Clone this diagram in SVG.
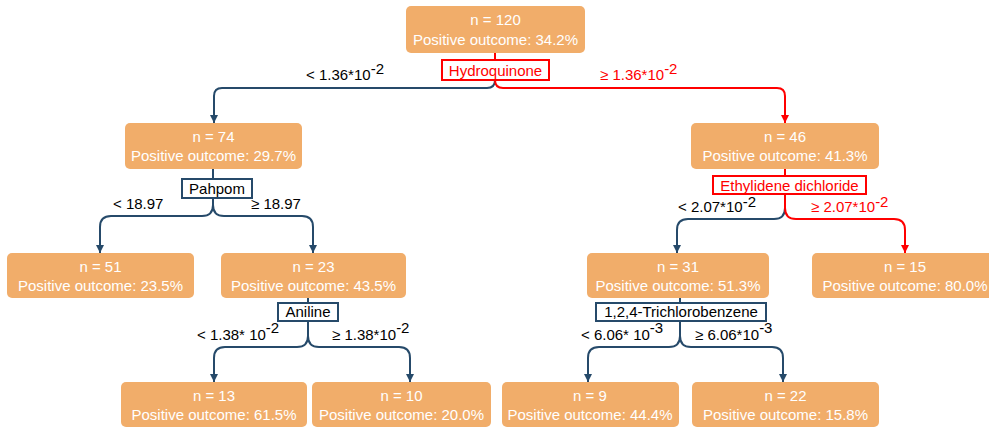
<svg xmlns="http://www.w3.org/2000/svg" width="989" height="430" viewBox="0 0 989 430">
<defs>
<style>
.node rect{fill:#F1AD6A;stroke:none}
.node text{fill:#FFFFFF;font-family:"Liberation Sans",Arial,sans-serif;font-size:15px;text-anchor:middle}
.split rect{fill:#FFFFFF;stroke-width:2}
.split text{font-family:"Liberation Sans",Arial,sans-serif;font-size:15px;text-anchor:middle}
.blue rect{stroke:#264A6A}
.blue text{fill:#000000}
.red rect{stroke:#FF0000}
.red text{fill:#FF0000}
.lbl{font-family:"Liberation Sans",Arial,sans-serif;font-size:15px;fill:#000000}
.lbl.r{fill:#FF0000}
.sup{font-size:15px}
.c{fill:none;stroke-width:2}
.cb{stroke:#264A6A}
.cr{stroke:#FF0000}
</style>
<marker id="ab" viewBox="0 0 10 10" refX="10" refY="5" markerWidth="9" markerHeight="8" markerUnits="userSpaceOnUse" orient="auto"><path d="M0,0 L10,5 L0,10 z" fill="#264A6A"/></marker>
<marker id="ar" viewBox="0 0 10 10" refX="10" refY="5" markerWidth="9" markerHeight="8" markerUnits="userSpaceOnUse" orient="auto"><path d="M0,0 L10,5 L0,10 z" fill="#FF0000"/></marker>
</defs>
<rect width="989" height="430" fill="#FFFFFF"/>

<g id="connectors">
<path class="c cr" d="M495,53 V60"/>
<path class="c cb" d="M495,80 Q495,88 487,88 H222 Q214,88 214,96 V123" marker-end="url(#ab)"/>
<path class="c cr" d="M495,80 Q495,88 503,88 H777 Q785,88 785,96 V123" marker-end="url(#ar)"/>
<path class="c cb" d="M213,169 V179"/>
<path class="c cb" d="M213,198 V205 Q213,216 202,216 H111 Q100,216 100,227 V253" marker-end="url(#ab)"/>
<path class="c cb" d="M213,198 V205 Q213,216 224,216 H302 Q313,216 313,227 V253" marker-end="url(#ab)"/>
<path class="c cr" d="M785,169 V176"/>
<path class="c cb" d="M785,194 V208 Q785,219 774,219 H688 Q677,219 677,230 V253" marker-end="url(#ab)"/>
<path class="c cr" d="M785,194 V208 Q785,219 796,219 H894 Q905,219 905,230 V253" marker-end="url(#ar)"/>
<path class="c cb" d="M308,298 V303"/>
<path class="c cb" d="M308,321 V336 Q308,347 297,347 H225 Q214,347 214,358 V382" marker-end="url(#ab)"/>
<path class="c cb" d="M308,321 V336 Q308,347 319,347 H399 Q410,347 410,358 V382" marker-end="url(#ab)"/>
<path class="c cb" d="M680,298 V303"/>
<path class="c cb" d="M680,321 V336 Q680,347 669,347 H599 Q588,347 588,358 V382" marker-end="url(#ab)"/>
<path class="c cb" d="M680,321 V336 Q680,347 691,347 H772 Q783,347 783,358 V382" marker-end="url(#ab)"/>
</g>

<g id="edge-labels">
<text class="lbl" x="306" y="80">&lt; 1.36*10<tspan class="sup" dy="-6">-2</tspan></text>
<text class="lbl r" x="600" y="80">≥ 1.36*10<tspan class="sup" dy="-6">-2</tspan></text>
<text class="lbl" x="113" y="208.5">&lt; 18.97</text>
<text class="lbl" x="251" y="208.5">≥ 18.97</text>
<text class="lbl" x="678" y="212">&lt; 2.07*10<tspan class="sup" dy="-5.5">-2</tspan></text>
<text class="lbl r" x="811" y="212">≥ 2.07*10<tspan class="sup" dy="-5.5">-2</tspan></text>
<text class="lbl" x="197" y="340">&lt; 1.38* 10<tspan class="sup" dy="-7">-2</tspan></text>
<text class="lbl" x="332" y="340">≥ 1.38*10<tspan class="sup" dy="-7">-2</tspan></text>
<text class="lbl" x="581" y="340">&lt; 6.06* 10<tspan class="sup" dy="-7">-3</tspan></text>
<text class="lbl" x="695" y="340">≥ 6.06*10<tspan class="sup" dy="-7">-3</tspan></text>
</g>

<g id="split-hydroquinone" class="split red"><rect x="442" y="60" width="107" height="20"/><text x="495.5" y="75.5">Hydroquinone</text></g>
<g id="split-pahpom" class="split blue"><rect x="182" y="179" width="70" height="19"/><text x="217" y="194">Pahpom</text></g>
<g id="split-ethylidene" class="split red"><rect x="713" y="176" width="153" height="18"/><text x="789.5" y="190.5">Ethylidene dichloride</text></g>
<g id="split-aniline" class="split blue"><rect x="278" y="303" width="60" height="18"/><text x="308" y="317">Aniline</text></g>
<g id="split-trichlorobenzene" class="split blue"><rect x="596" y="303" width="170" height="18"/><text x="681" y="317">1,2,4-Trichlorobenzene</text></g>

<g id="node-root" class="node"><rect x="406" y="6" width="179" height="47" rx="5"/><text x="495.5" y="25">n = 120</text><text x="495.5" y="44.5">Positive outcome: 34.2%</text></g>
<g id="node-74" class="node"><rect x="125" y="123" width="177" height="46" rx="5"/><text x="213.5" y="142">n = 74</text><text x="213.5" y="161">Positive outcome: 29.7%</text></g>
<g id="node-46" class="node"><rect x="691" y="123" width="188" height="46" rx="5"/><text x="785" y="142">n = 46</text><text x="785" y="161">Positive outcome: 41.3%</text></g>
<g id="node-51" class="node"><rect x="7" y="253" width="187" height="45" rx="5"/><text x="100.5" y="272">n = 51</text><text x="100.5" y="291">Positive outcome: 23.5%</text></g>
<g id="node-23" class="node"><rect x="221" y="253" width="185" height="45" rx="5"/><text x="313.5" y="272">n = 23</text><text x="313.5" y="291">Positive outcome: 43.5%</text></g>
<g id="node-31" class="node"><rect x="587" y="253" width="182" height="45" rx="5"/><text x="678" y="272">n = 31</text><text x="678" y="291">Positive outcome: 51.3%</text></g>
<g id="node-15" class="node"><rect x="812" y="253" width="188" height="45" rx="5"/><text x="905" y="272">n = 15</text><text x="905" y="291">Positive outcome: 80.0%</text></g>
<g id="node-13" class="node"><rect x="121" y="382" width="186" height="45" rx="5"/><text x="214" y="401">n = 13</text><text x="214" y="420">Positive outcome: 61.5%</text></g>
<g id="node-10" class="node"><rect x="312" y="382" width="179" height="45" rx="5"/><text x="401.5" y="401">n = 10</text><text x="401.5" y="420">Positive outcome: 20.0%</text></g>
<g id="node-9" class="node"><rect x="502" y="382" width="177" height="45" rx="5"/><text x="590" y="401">n = 9</text><text x="590" y="420">Positive outcome: 44.4%</text></g>
<g id="node-22" class="node"><rect x="692" y="382" width="187" height="45" rx="5"/><text x="785.5" y="401">n = 22</text><text x="785.5" y="420">Positive outcome: 15.8%</text></g>
</svg>
